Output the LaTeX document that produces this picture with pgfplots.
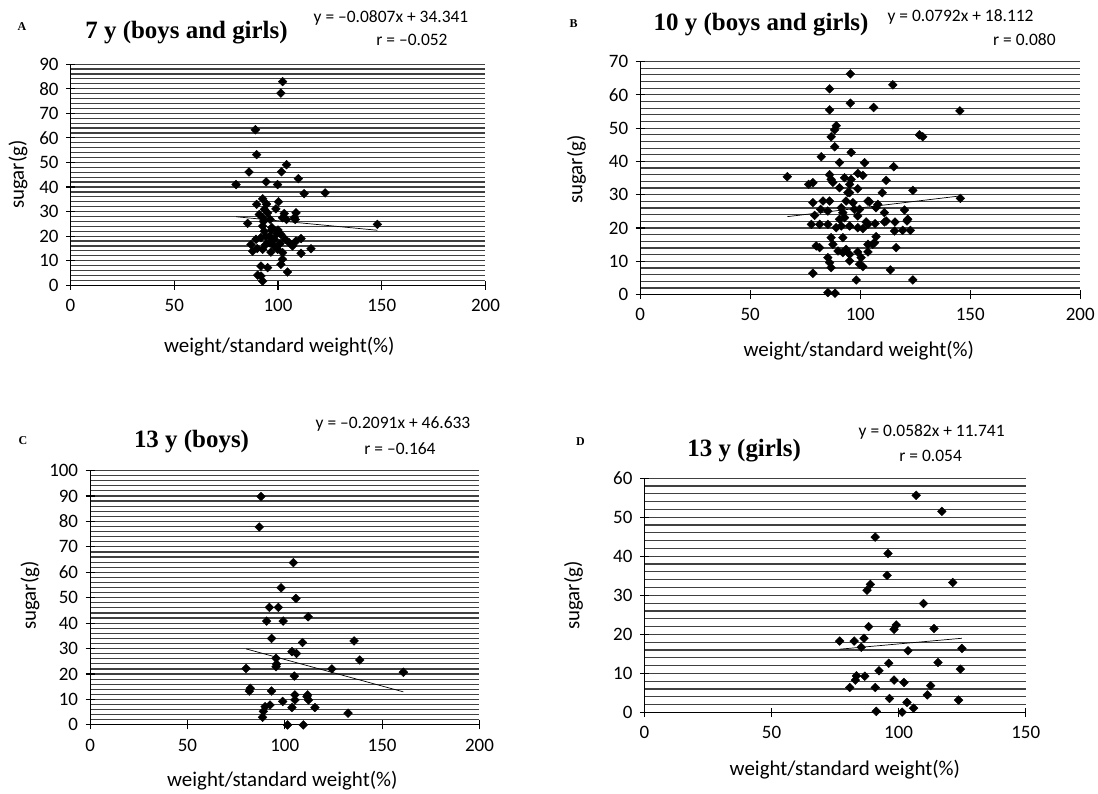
\documentclass[border=0pt]{standalone}
\usepackage{fontspec}
\setmainfont{Carlito}
\newfontfamily\tnr{Liberation Serif}
\usepackage{pgfplots}
\pgfplotsset{compat=1.18}
\newcommand{\ticksize}{\fontsize{19bp}{22bp}\selectfont}
\newcommand{\labsize}{\fontsize{21bp}{24bp}\selectfont}
\newcommand{\eqsize}{\fontsize{17.5bp}{20bp}\selectfont}
\newcommand{\titsize}{\tnr\bfseries\fontsize{25bp}{28bp}\selectfont}
\newcommand{\letsize}{\tnr\bfseries\fontsize{12bp}{14bp}\selectfont}
\pgfplotsset{panel/.style={scale only axis, anchor=south west, xmin=0, ymin=0,
  axis x line*=bottom, axis y line*=left,
  axis line style={black, line width=1.1bp},
  ytick distance=10, minor y tick num=4, ymajorgrids, yminorgrids,
  major grid style={black!75, line width=1.2bp},
  minor grid style={black!75, line width=1.2bp},
  tick align=center, major tick length=9bp, minor tick length=0pt,
  every tick/.style={black, line width=1.1bp},
  ticklabel style={font=\ticksize},
  yticklabel style={xshift=-4bp},
  xticklabel style={yshift=-6bp},
  /pgf/number format/assume math mode=true,
  clip=false},
  pts/.style={only marks, mark=square*, mark size=3.1bp, mark options={rotate=45}, black},
  trend/.style={black, line width=0.7bp, no marks}}
\begin{document}
\begin{tikzpicture}
\path (0,0) rectangle (1098bp,-795bp);
% ---------- A ----------
\begin{axis}[panel, at={(70.7bp,-286bp)}, width=416bp, height=221.7bp, xmax=200, ymax=90, xtick={0,50,100,150,200}]
\addplot[pts] coordinates {
(102.2,82.9) (101.4,78.2) (89.1,63.3) (89.7,53.2) (104.1,49.1) (101.7,46.2) (86.0,46.1)
(109.8,43.4) (94.3,42.1) (99.8,41.0) (79.8,41.0) (112.6,37.3) (122.7,37.6) (92.6,35.2)
(100.2,34.0) (89.7,32.9) (93.4,30.9) (95.0,29.5) (91.0,28.8) (92.6,27.5) (96.2,26.8)
(99.0,31.1) (103.0,29.2) (104.1,26.8) (108.3,26.8) (108.7,29.5) (102.2,27.5) (107.8,27.5)
(85.4,25.2) (92.6,24.1) (93.4,22.0) (94.2,19.8) (91.8,19.4) (89.4,18.7) (87.0,16.6)
(87.8,13.9) (92.6,14.6) (95.8,17.3) (98.2,18.7) (101.4,20.7) (103.5,18.7) (105.4,17.3)
(99.8,14.6) (96.6,13.5) (102.2,13.3) (107.0,16.0) (108.7,18.0) (111.1,19.0) (115.9,14.9)
(111.1,13.0) (91.8,7.8) (95.0,7.2) (101.4,8.5) (102.2,10.6) (104.6,5.4) (90.2,4.1)
(92.6,1.7) (91.8,3.8) (147.9,24.8) (93.0,26.0) (97.0,22.5) (99.5,21.0) (96.0,20.0)
(94.0,16.5) (98.0,16.0) (101.0,17.0) (90.0,15.0) (97.0,23.5) (100.0,22.5) (94.5,33.0)};
\addplot[trend] coordinates {(79.8,27.90) (147.9,22.40)};
\end{axis}
% ---------- B ----------
\begin{axis}[panel, at={(641.7bp,-295.3bp)}, width=441.3bp, height=233.6bp, xmax=200, ymax=70, xtick={0,50,100,150,200}]
\addplot[pts] coordinates {
(95.5,66.3) (114.8,63.0) (86.1,61.8) (95.5,57.5) (106.1,56.2) (86.1,55.5) (145.3,55.2)
(89.1,50.7) (88.4,49.5) (86.8,47.4) (126.9,48.0) (128.4,47.4) (88.4,44.4) (95.9,42.7)
(82.3,41.4) (90.6,39.7) (102.0,39.6) (115.2,38.4) (98.9,36.4) (101.2,35.8) (86.8,34.6)
(87.6,33.7) (95.9,34.6) (111.8,34.3) (66.9,35.4) (76.6,33.1) (78.5,33.6) (86.1,36.0)
(92.9,35.1) (95.2,33.1) (98.9,31.8) (90.6,32.1) (95.2,30.6) (110.0,30.6) (123.9,31.3)
(145.5,28.9) (94.4,30.6) (93.6,28.1) (78.5,27.6) (83.1,28.1) (86.1,28.1) (82.0,25.6)
(79.3,23.8) (85.3,25.1) (91.4,26.1) (92.1,24.6) (92.9,23.1) (90.6,22.6) (96.7,27.6)
(97.4,25.6) (98.9,23.6) (95.2,20.6) (103.5,28.1) (104.2,27.9) (108.0,27.1) (107.2,26.1)
(99.7,25.6) (102.7,21.8) (111.0,24.6) (106.8,21.3) (111.0,21.8) (120.1,25.4) (121.6,22.6)
(111.8,22.1) (115.8,21.8) (121.3,22.1) (77.8,21.1) (81.6,21.1) (85.3,21.1) (89.1,20.1)
(91.4,20.6) (98.9,20.1) (101.2,19.8) (103.5,21.1) (115.6,19.1) (119.3,19.3) (122.8,19.3)
(86.8,17.1) (92.1,17.1) (107.2,17.4) (106.5,15.6) (103.5,15.1) (105.7,15.1) (80.0,14.6)
(81.6,14.1) (87.6,15.1) (89.9,13.1) (92.1,12.6) (95.2,12.1) (93.6,13.6) (98.9,12.8)
(100.4,11.1) (103.5,12.8) (116.3,14.1) (85.3,11.1) (86.1,9.6) (86.8,8.1) (95.2,10.1)
(99.7,9.1) (101.2,8.4) (113.7,7.4) (78.5,6.4) (98.2,4.4) (123.9,4.4) (85.3,0.6) (88.6,0.4)};
\addplot[trend] coordinates {(66.9,23.41) (145.5,29.64)};
\end{axis}
% ---------- C ----------
\begin{axis}[panel, at={(90.3bp,-726.7bp)}, width=390.4bp, height=255bp, xmax=200, ymax=100, xtick={0,50,100,150,200}]
\addplot[pts] coordinates {
(87.8,89.8) (86.9,77.8) (104.4,63.8) (98.1,53.9) (105.7,49.7) (92.1,46.2) (96.7,46.2)
(112.0,42.5) (90.7,40.8) (99.2,40.8) (93.2,34.0) (109.1,32.4) (103.7,28.8) (106.0,28.1)
(95.5,26.2) (95.8,23.9) (95.5,22.9) (80.1,22.2) (124.2,22.0) (104.9,19.2) (82.3,14.4)
(81.8,13.3) (93.2,13.3) (105.2,11.8) (111.7,11.8) (98.9,9.2) (105.2,9.8) (112.2,9.8)
(92.4,7.8) (89.9,7.2) (103.7,6.8) (115.5,6.8) (89.0,5.3) (88.6,3.0) (101.4,0.0)
(109.5,0.0) (135.6,33.0) (138.5,25.5) (160.9,20.7) (132.5,4.6) (111.4,11.1)};
\addplot[trend] coordinates {(80.1,29.88) (160.9,12.99)};
\end{axis}
% ---------- D ----------
\begin{axis}[panel, at={(646bp,-714.3bp)}, width=382.3bp, height=235bp, xmax=150, ymax=60, xtick={0,50,100,150}]
\addplot[pts] coordinates {
(106.9,55.6) (117.0,51.5) (90.8,44.9) (95.8,40.7) (95.5,35.1) (121.3,33.3) (88.9,32.8)
(87.6,31.3) (109.8,27.9) (88.2,22.0) (99.1,22.4) (98.2,21.3) (113.9,21.5) (76.8,18.3)
(82.5,18.3) (86.4,19.0) (85.3,16.7) (124.9,16.4) (103.7,15.8) (96.1,12.6) (115.5,12.8)
(92.3,10.7) (124.3,11.1) (83.4,9.4) (86.7,9.3) (83.0,8.3) (98.2,8.3) (102.1,7.7)
(112.6,6.9) (80.8,6.4) (90.8,6.4) (111.3,4.5) (96.4,3.6) (123.6,3.2) (103.3,2.6)
(105.9,1.1) (91.2,0.3) (101.4,0.1)};
\addplot[trend] coordinates {(76.8,16.21) (124.9,19.01)};
\end{axis}
% ---------- texts ----------
\node[font=\letsize] at (22bp,-27bp) {A};
\node[font=\titsize] at (187bp,-33bp) {7 y (boys and girls)};
\node[font=\eqsize] at (392bp,-18bp) {y = --0.0807x + 34.341};
\node[font=\eqsize] at (413bp,-40bp) {r = --0.052};
\node[font=\labsize, rotate=90] at (18bp,-175bp) {sugar(g)};
\node[font=\labsize] at (280bp,-348bp) {weight/standard weight(\%)};
\node[font=\letsize] at (575bp,-24bp) {B};
\node[font=\titsize] at (763bp,-25bp) {10 y (boys and girls)};
\node[font=\eqsize] at (963bp,-17bp) {y = 0.0792x + 18.112};
\node[font=\eqsize] at (1027bp,-40bp) {r = 0.080};
\node[font=\labsize, rotate=90] at (578bp,-170bp) {sugar(g)};
\node[font=\labsize] at (861bp,-352bp) {weight/standard weight(\%)};
\node[font=\letsize] at (23bp,-442bp) {C};
\node[font=\titsize] at (192bp,-443bp) {13 y (boys)};
\node[font=\eqsize] at (394bp,-425bp) {y = --0.2091x + 46.633};
\node[font=\eqsize] at (401bp,-450bp) {r = --0.164};
\node[font=\labsize, rotate=90] at (30bp,-597bp) {sugar(g)};
\node[font=\labsize] at (283bp,-783bp) {weight/standard weight(\%)};
\node[font=\letsize] at (582bp,-443bp) {D};
\node[font=\titsize] at (746bp,-452bp) {13 y (girls)};
\node[font=\eqsize] at (934bp,-433bp) {y = 0.0582x + 11.741};
\node[font=\eqsize] at (933bp,-457bp) {r = 0.054};
\node[font=\labsize, rotate=90] at (575bp,-597bp) {sugar(g)};
\node[font=\labsize] at (847bp,-772bp) {weight/standard weight(\%)};
\end{tikzpicture}
\end{document}
